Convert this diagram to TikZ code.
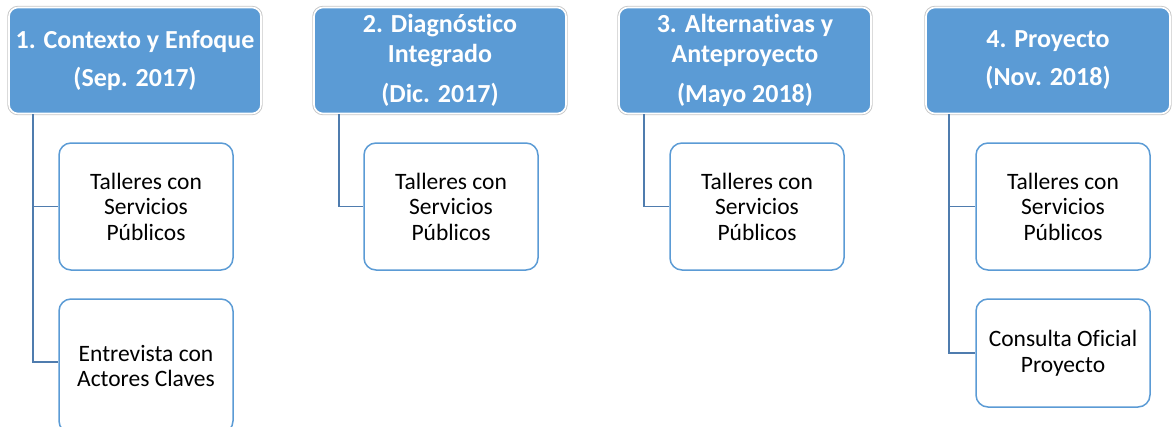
\documentclass[tikz,border=0pt]{standalone}
\usepackage{fontspec}
\setmainfont{Carlito}[Ligatures={NoCommon}]
\definecolor{hdrblue}{HTML}{5B9BD5}
\definecolor{linkblue}{HTML}{4F7CAE}
\begin{document}
\begin{tikzpicture}[x=1pt,y=-1pt,
  hdr/.style={rounded corners=9pt, fill=hdrblue, draw=white, line width=1.6pt,
    preaction={draw=black!22, line width=3.4pt, rounded corners=9pt},
    text=white, font=\fontsize{26}{30}\selectfont\bfseries, align=center,
    minimum height=106pt, inner sep=0pt},
  child/.style={rounded corners=12pt, fill=white, draw=hdrblue, line width=1.5pt,
    text=black, font=\fontsize{23.5}{25.5}\selectfont, align=center,
    minimum width=174pt, inner sep=0pt},
  link/.style={draw=linkblue, line width=1.7pt}]
\useasboundingbox (0,0) rectangle (1173,426);
% headers
\node[hdr, minimum width=252pt] (h1) at (135,60.5) {1. Contexto y Enfoque\\[8pt](Sep. 2017)};
\node[hdr, minimum width=252pt] (h2) at (440,60.5) {2. Diagnóstico\\Integrado\\[10pt](Dic. 2017)};
\node[hdr, minimum width=252pt] (h3) at (745,60.5) {3. Alternativas y\\Anteproyecto\\[10pt](Mayo 2018)};
\node[hdr, minimum width=244pt] (h4) at (1048,60.5) {4. Proyecto\\[8pt](Nov. 2018)};
% children
\node[child, minimum height=127pt] (c1a) at (146,206.5) {Talleres con\\Servicios\\Públicos};
\node[child, minimum height=134pt] (c1b) at (146,366) {Entrevista con\\Actores Claves};
\node[child, minimum height=127pt] (c2a) at (451,206.5) {Talleres con\\Servicios\\Públicos};
\node[child, minimum height=127pt] (c3a) at (757,206.5) {Talleres con\\Servicios\\Públicos};
\node[child, minimum height=127pt] (c4a) at (1063,206.5) {Talleres con\\Servicios\\Públicos};
\node[child, minimum height=108pt] (c4b) at (1063,353) {Consulta Oficial\\Proyecto};
% connectors
\draw[link] (h1.south west) ++(25,0) coordinate (t1) |- (c1a.west);
\draw[link] (t1) |- (c1b.west |- 0,362);
\draw[link] (h2.south west) ++(26,0) |- (c2a.west);
\draw[link] (h3.south west) ++(26,0) |- (c3a.west);
\draw[link] (h4.south west) ++(24,0) coordinate (t4) |- (c4a.west);
\draw[link] (t4) |- (c4b.west);
\end{tikzpicture}
\end{document}
